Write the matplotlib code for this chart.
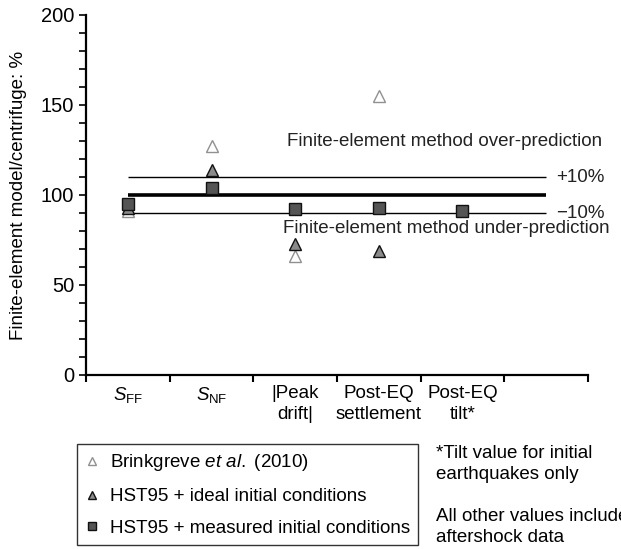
import numpy as np
import matplotlib.pyplot as plt
from matplotlib.lines import Line2D
from matplotlib.ticker import MultipleLocator

plt.rcParams['font.family'] = ['Liberation Sans', 'DejaVu Sans']
plt.rcParams['mathtext.fontset'] = 'custom'
plt.rcParams['mathtext.rm'] = 'Liberation Sans'
plt.rcParams['mathtext.it'] = 'Liberation Sans:italic'

# categories and ratios (finite-element / centrifuge, %)
categories = [r'$S_{\mathrm{FF}}$', r'$S_{\mathrm{NF}}$', '|Peak\ndrift|',
              'Post-EQ\nsettlement', 'Post-EQ\ntilt*']
brinkgreve = [91, 127, 66, 155, np.nan]
hst_ideal = [93, 114, 73, 69, np.nan]
hst_measured = [95, 104, 92, 93, 91]

ref_lines = [110, 100, 90]
ref_labels = ['+10%', '', '\u221210%']

FS = 13.5

fig = plt.figure(figsize=(6.21, 5.49), dpi=100)
ax = fig.add_axes([86 / 621, 1 - 375 / 549, (588 - 86) / 621, (375 - 15) / 549])

x = np.arange(len(categories)) + 0.5

# reference lines
for val, lab in zip(ref_lines, ref_labels):
    lw = 2.6 if val == 100 else 1.0
    ax.plot([0.5, 5.5], [val, val], color='black', lw=lw, zorder=2, solid_capstyle='butt')
    if lab:
        ax.text(5.62, val, lab, fontsize=FS, va='center', ha='left', color='#222222')

ax.text(4.28, 129.5, 'Finite-element method over-prediction', fontsize=FS,
        ha='center', va='center', color='#222222')
ax.text(4.31, 81.5, 'Finite-element method under-prediction', fontsize=FS,
        ha='center', va='center', color='#222222')

ms = 8.5
ax.plot(x, brinkgreve, ls='none', marker='^', ms=ms, mfc='white', mec='#909090',
        mew=1.0, zorder=3)
ax.plot(x, hst_ideal, ls='none', marker='^', ms=ms, mfc='#8a8a8a', mec='#111111',
        mew=1.0, zorder=4)
ax.plot(x, hst_measured, ls='none', marker='s', ms=ms, mfc='#555555', mec='#111111',
        mew=1.0, zorder=5)

ax.set_xlim(0, 6)
ax.set_ylim(0, 200)
ax.set_xticks(np.arange(0, 7))
ax.set_xticklabels([])
ax.set_xticks(x, minor=True)
ax.set_xticklabels(categories, minor=True, fontsize=FS, linespacing=1.35)
ax.tick_params(axis='x', which='minor', length=0, pad=7)
ax.tick_params(axis='x', which='major', length=5, width=1.5, direction='out')
ax.yaxis.set_major_locator(MultipleLocator(50))
ax.yaxis.set_minor_locator(MultipleLocator(10))
ax.tick_params(axis='y', which='both', length=5, width=1.2, labelsize=14.5)
ax.set_ylabel('Finite-element model/centrifuge: %', fontsize=FS, labelpad=10)

for s in ['top', 'right']:
    ax.spines[s].set_visible(False)
for s in ['left', 'bottom']:
    ax.spines[s].set_linewidth(1.6)

handles = [
    Line2D([], [], ls='none', marker='^', ms=6, mfc='white', mec='#909090'),
    Line2D([], [], ls='none', marker='^', ms=6, mfc='#8a8a8a', mec='#111111'),
    Line2D([], [], ls='none', marker='s', ms=6, mfc='#555555', mec='#111111'),
]
labels = [r'Brinkgreve $\it{et\ al.}$ (2010)',
          'HST95 + ideal initial conditions',
          'HST95 + measured initial conditions']
leg = fig.legend(handles, labels, loc='upper left',
                 bbox_to_anchor=(77 / 621, 1 - 444 / 549), fontsize=FS,
                 frameon=True, fancybox=False, edgecolor='black',
                 handlelength=0.7, handletextpad=0.6, labelspacing=0.78,
                 borderpad=0.45, borderaxespad=0)
leg.get_frame().set_linewidth(1.0)

fig.text(436 / 621, 1 - 445 / 549, '*Tilt value for initial\nearthquakes only',
         fontsize=FS, va='top', ha='left', linespacing=1.3)
fig.text(436 / 621, 1 - 508 / 549, 'All other values include\naftershock data',
         fontsize=FS, va='top', ha='left', linespacing=1.3)

fig.savefig('out.png', dpi=100)
